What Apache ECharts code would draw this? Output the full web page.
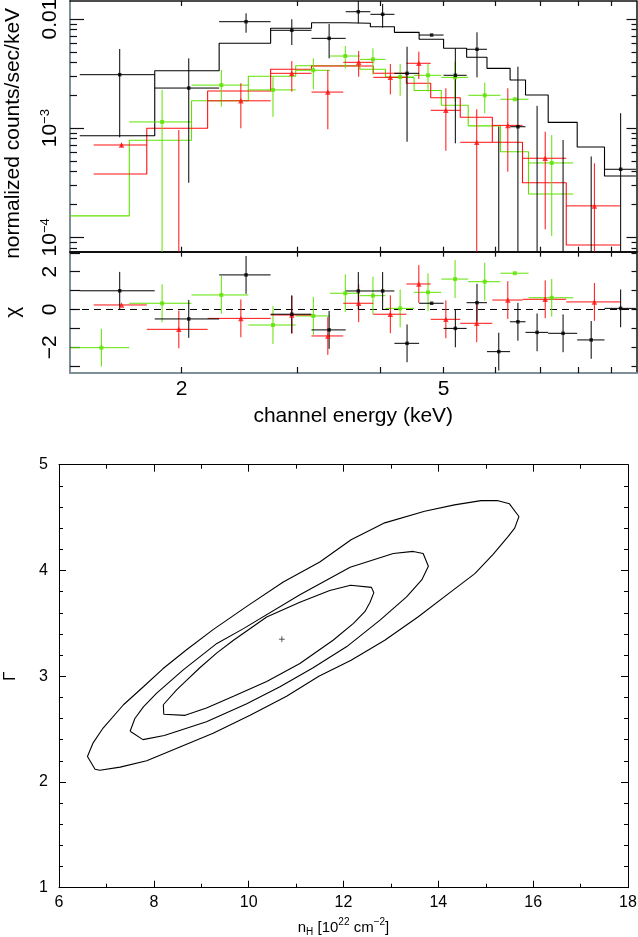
<!DOCTYPE html>
<html><head><meta charset="utf-8">
<script src="https://cdn.jsdelivr.net/npm/echarts@6/dist/echarts.min.js"></script>
<style>html,body{margin:0;padding:0;background:#fff}#c{width:638px;height:937px}</style>
</head><body><div id="c"></div>
<script>
// ---------------- data: spectrum (keV bin edges, counts/s/keV) ----------------
const blackEdges = [1.40, 1.82, 2.28, 2.73, 3.15, 3.55, 3.87, 4.21, 4.59, 5.00, 5.42, 5.82, 6.31, 6.66, 7.21, 7.98, 8.78, 9.80];
const blackRate  = [3.09e-3, 2.33e-3, 9.45e-3, 7.88e-3, 6.65e-3, 1.166e-2, 1.104e-2, 3.18e-3, 7.13e-3, 3.05e-3, 5.28e-3, null, 1.03e-3, null, null, null, 4.20e-4];
const blackHi    = [5.31e-3, 4.36e-3, 1.127e-2, 9.94e-3, 9.00e-3, 1.6e-2, 1.372e-2, 5.57e-3, 7.13e-3, 5.39e-3, 7.55e-3, 1.03e-3, 3.66e-3, 1.60e-3, 7.78e-4, 5.5e-4, 1.37e-3];
const blackLo    = [8.24e-4, 3.16e-4, 7.49e-3, 5.78e-3, 4.36e-3, 9.13e-3, 8.32e-3, 7.51e-4, 7.13e-3, 7.26e-4, 2.92e-3, null, null, null, null, null, null];
const blackModel = [8.53e-4, 3.36e-3, 5.99e-3, 8.22e-3, 9.25e-3, 9.13e-3, 8.50e-3, 7.55e-3, 6.52e-3, 5.39e-3, 4.46e-3, 3.53e-3, 2.76e-3, 2.01e-3, 1.13e-3, 6.72e-4, 3.64e-4];
const blackChi   = [0.99, -0.50, 1.83, -0.25, -1.08, 0.98, 0.98, -1.79, 0.33, -1.00, 0.36, -2.23, -0.65, -1.21, -1.26, -1.61, 0.06];
const blackChiErr= [1, 1, 1, 1, 1, 1, 1, 1, 0, 1, 1, 1, 1, 1, 1, 1, 1];

const redEdges = [1.47, 1.77, 2.19, 2.73, 3.15, 3.52, 3.91, 4.39, 4.78, 5.30, 5.93, 6.59, 7.68, 9.27];
const redRate  = [7.01e-4, null, 1.78e-3, 3.18e-3, 2.14e-3, 4.01e-3, 2.92e-3, 3.93e-3, 1.457e-3, 7.42e-4, 1.06e-3, 5.30e-4, 1.94e-4];
const redHi    = [7.3e-4, 9.62e-4, 2.58e-3, 4.12e-3, 3.41e-3, 5.09e-3, 3.87e-3, 5.02e-3, 2.32e-3, 1.49e-3, 2.32e-3, 9.28e-4, 4.76e-4];
const redLo    = [6.7e-4, null, 9.97e-4, 2.16e-3, 9.76e-4, 2.96e-3, 2.04e-3, 2.82e-3, 6.21e-4, null, 3.99e-4, 1.18e-4, null];
const redModel = [3.80e-4, 9.97e-4, 2.19e-3, 3.46e-3, 3.71e-3, 3.71e-3, 3.18e-3, 2.58e-3, 1.90e-3, 1.257e-3, 7.42e-4, 3.16e-4, 8.50e-5];
const redChi   = [0.24, -1.05, -0.47, -0.29, -1.40, 0.33, -0.25, 1.35, -0.52, -0.73, 0.50, 0.54, 0.40];
const redChiErr= [0, 1, 1, 1, 1, 1, 1, 1, 1, 1, 1, 1, 1];

const greenEdges = [1.355, 1.665, 2.07, 2.525, 2.98, 3.36, 3.73, 4.08, 4.51, 4.96, 5.45, 6.10, 6.73, 7.87];
const greenRate  = [null, 1.14e-3, 2.48e-3, 2.24e-3, 3.39e-3, 4.58e-3, 4.27e-3, 2.94e-3, 3.05e-3, 2.92e-3, 2.00e-3, 1.84e-3, 4.80e-4];
const greenHi    = [null, 2.24e-3, 3.41e-3, 2.94e-3, 4.36e-3, 5.66e-3, 5.39e-3, 3.87e-3, 3.93e-3, 4.06e-3, 2.61e-3, 1.84e-3, 8.66e-4];
const greenLo    = [null, null, 1.57e-3, 1.27e-3, 2.27e-3, 3.53e-3, 3.11e-3, 1.98e-3, 2.16e-3, 1.75e-3, 1.37e-3, 1.84e-3, 1.03e-4];
const greenModel = [1.57e-4, 7.74e-4, 1.78e-3, 2.99e-3, 3.73e-3, 3.73e-3, 3.46e-3, 2.91e-3, 2.21e-3, 1.62e-3, 1.05e-3, 6.08e-4, 2.49e-4];
const greenChi   = [-2.02, 0.33, 0.77, -0.82, -0.34, 0.86, 0.73, 0.06, 0.91, 1.61, 1.47, 1.92, 0.62];
const greenChiErr= [1, 1, 1, 1, 1, 1, 1, 1, 1, 1, 1, 0, 1];

// ---------------- data: confidence contours (nH [1e22 cm^-2], Gamma) ----------------
const contourOuter = [[11.50,4.08],[10.73,3.89],[9.96,3.66],[9.25,3.44],[8.69,3.25],[8.19,3.07],[7.78,2.90],[7.36,2.73],[6.93,2.51],[6.72,2.37],[6.60,2.24],[6.76,2.12],[6.86,2.11],[7.29,2.14],[7.85,2.20],[8.55,2.33],[9.25,2.46],[10.03,2.63],[10.80,2.81],[11.48,3.00],[12.16,3.15],[12.87,3.34],[13.57,3.56],[14.27,3.80],[14.77,3.97],[15.15,4.15],[15.47,4.32],[15.61,4.40],[15.70,4.51],[15.50,4.63],[15.26,4.66],[14.90,4.66],[14.34,4.62],[13.71,4.56],[12.87,4.45],[12.16,4.29],[11.50,4.08]];
const contourMiddle = [[7.50,2.48],[7.60,2.60],[7.78,2.71],[8.06,2.84],[8.62,3.06],[9.33,3.31],[9.89,3.45],[11.08,3.77],[12.14,4.03],[13.05,4.16],[13.47,4.18],[13.68,4.16],[13.79,4.04],[13.65,3.91],[13.33,3.75],[12.77,3.53],[12.07,3.28],[11.36,3.08],[10.66,2.90],[9.96,2.74],[9.11,2.57],[8.22,2.44],[7.77,2.40],[7.50,2.48]];
const contourInner = [[8.20,2.73],[8.48,2.87],[8.69,2.96],[8.97,3.08],[9.33,3.22],[9.68,3.34],[10.38,3.56],[11.08,3.70],[11.71,3.81],[12.15,3.86],[12.59,3.84],[12.64,3.79],[12.56,3.70],[12.45,3.61],[12.21,3.50],[11.78,3.34],[11.08,3.12],[10.38,2.95],[9.68,2.81],[9.11,2.70],[8.66,2.63],[8.21,2.64],[8.20,2.73]];
const bestFit = [10.70, 3.35];

// ---------------- axis tick definitions ----------------
const xTickKeV = [2, 3, 4, 5, 6, 7, 8, 9];
const xLabelKeV = [2, 5];
const yMajorExp = [-4, -3, -2];
const chiTicks = [-3, -2, -1, 0, 1, 2, 3];
const chiLabels = [-2, 0, 2];

// ---------------- helpers ----------------
const FONT = "'Liberation Sans', Arial, Helvetica, sans-serif";
const L10 = Math.log10;
const X_MIN = L10(1.353), X_MAX = L10(9.82);
const Y_MIN = -4.132, Y_MAX = -1.835;
const R_MIN = -3.36, R_MAX = 3.058;
const BLACK = '#000000', RED = '#ff1010', GREEN = '#5fe200';

const xTickVals = xTickKeV.map(L10);
const xLabelVals = xLabelKeV.map(L10);
const yMinorVals = [];
for (let n = -5; n <= -2; n++) for (let k = 2; k <= 9; k++) {
  const v = n + L10(k);
  if (v > Y_MIN && v < Y_MAX) yMinorVals.push(v);
}

function lg(v) { return (v == null || v <= 0) ? -99 : L10(v); }
function specErr(edges, rate, lo, hi) {
  return rate.map((r, i) => {
    const a = edges[i], b = edges[i + 1];
    return [L10(a), L10(b), L10((a + b) / 2), lg(r), lg(lo[i]), lg(hi[i])];
  });
}
function resErr(edges, chi, err) {
  return chi.map((c, i) => {
    const a = edges[i], b = edges[i + 1];
    return [L10(a), L10(b), L10((a + b) / 2), c, c - err[i], c + err[i]];
  });
}
function steps(edges, model) {
  return edges.map((e, i) => [L10(e), L10(model[Math.min(i, model.length - 1)])]);
}
function markers(edges, vals, logy) {
  const out = [];
  vals.forEach((v, i) => {
    if (v == null) return;
    const a = edges[i], b = edges[i + 1];
    out.push([L10((a + b) / 2), logy ? L10(v) : v]);
  });
  return out;
}
function errRenderer(color, yMin, yMax) {
  return function (params, api) {
    const xl = api.value(0), xh = api.value(1), xc = api.value(2);
    const y = api.value(3), yl = api.value(4), yh = api.value(5);
    const style = { stroke: color, lineWidth: 1 };
    const children = [];
    if (y >= yMin && y <= yMax) {
      const p1 = api.coord([Math.max(xl, X_MIN), y]), p2 = api.coord([Math.min(xh, X_MAX), y]);
      children.push({ type: 'line', shape: { x1: p1[0], y1: p1[1], x2: p2[0], y2: p2[1] }, style });
    }
    const top = Math.min(yh, yMax), bot = Math.max(yl, yMin);
    if (yh > yMin && top > bot) {
      const q1 = api.coord([xc, bot]), q2 = api.coord([xc, top]);
      children.push({ type: 'line', shape: { x1: q1[0], y1: q1[1], x2: q2[0], y2: q2[1] }, style });
    }
    return { type: 'group', children };
  };
}
function errSeries(data, color, xi, yi, yMin, yMax) {
  return { type: 'custom', coordinateSystem: 'cartesian2d', xAxisIndex: xi, yAxisIndex: yi,
    data, encode: { x: [0, 1, 2], y: [3, 4, 5] }, renderItem: errRenderer(color, yMin, yMax), silent: true, z: 3 };
}
function markSeries(data, color, symbol, size, xi, yi) {
  return { type: 'scatter', xAxisIndex: xi, yAxisIndex: yi, data, symbol, symbolSize: size,
    itemStyle: { color }, silent: true, z: 4 };
}
function stepSeries(data, color) {
  return { type: 'line', xAxisIndex: 0, yAxisIndex: 0, data, step: 'end', symbol: 'none',
    lineStyle: { color, width: 1.1 }, silent: true, z: 2 };
}
function contourSeries(data) {
  return { type: 'line', xAxisIndex: 4, yAxisIndex: 6, data, symbol: 'none',
    lineStyle: { color: '#000', width: 1.1 }, silent: true };
}

const richSup = {
  b: { fontSize: 21, lineHeight: 22, fontFamily: FONT, color: '#000', verticalAlign: 'middle' },
  sup: { fontSize: 13, lineHeight: 13, fontFamily: FONT, color: '#000', verticalAlign: 'top' }
};
const frameGray = '#7f8f96';

function tickX(grid, pos, len, lineColor, lineWidth, showLine) {
  return { gridIndex: grid, type: 'value', position: pos, min: X_MIN, max: X_MAX,
    axisLine: { show: showLine, onZero: false, lineStyle: { color: lineColor, width: lineWidth } },
    axisTick: { show: true, inside: true, length: len, customValues: xTickVals, lineStyle: { color: '#111', width: 1.2 } },
    axisLabel: { show: false }, splitLine: { show: false } };
}
function specY(pos, len, vals, showLine, lineColor, lineWidth) {
  return { gridIndex: 0, type: 'value', position: pos, min: Y_MIN, max: Y_MAX,
    axisLine: { show: showLine, onZero: false, lineStyle: { color: lineColor, width: lineWidth } },
    axisTick: { show: true, inside: true, length: len, customValues: vals, lineStyle: { color: '#111', width: 1.2 } },
    axisLabel: { show: false }, splitLine: { show: false } };
}

const xAxis = [
  tickX(0, 'bottom', 5, '#111', 2, true),
  tickX(0, 'top', 5, '#111', 1.5, true),
  tickX(1, 'top', 5, '#111', 2, false),
  Object.assign(tickX(1, 'bottom', 6, frameGray, 2, true), {
    axisLabel: { show: true, customValues: xLabelVals, margin: 6, fontSize: 21, fontFamily: FONT, color: '#000',
      formatter: v => String(Math.round(Math.pow(10, v))) },
    name: 'channel energy (keV)', nameLocation: 'middle', nameGap: 33,
    nameTextStyle: { fontSize: 21, fontFamily: FONT, color: '#000' }
  }),
  { gridIndex: 2, type: 'value', position: 'bottom', min: 6, max: 18, interval: 2,
    axisLine: { onZero: false, lineStyle: { color: '#000', width: 1 } },
    axisTick: { inside: true, length: 7, lineStyle: { color: '#000', width: 1 } },
    minorTick: { show: true, splitNumber: 2, length: 4, lineStyle: { color: '#000', width: 1 } },
    axisLabel: { margin: 7, fontSize: 16, fontFamily: FONT, color: '#000' },
    splitLine: { show: false },
    name: '{b|n}{sub|H}{b| [10}{sup|22}{b| cm}{sup|−2}{b|]}', nameLocation: 'middle', nameGap: 30,
    nameTextStyle: { fontFamily: FONT, color: '#000', rich: {
      b: { fontSize: 15, lineHeight: 20, fontFamily: FONT, color: '#000', verticalAlign: 'middle' },
      sub: { fontSize: 10, lineHeight: 10, fontFamily: FONT, color: '#000', verticalAlign: 'bottom' },
      sup: { fontSize: 10, lineHeight: 10, fontFamily: FONT, color: '#000', verticalAlign: 'top' } } } },
  { gridIndex: 2, type: 'value', position: 'top', min: 6, max: 18, interval: 2,
    axisLine: { onZero: false, lineStyle: { color: '#000', width: 1 } },
    axisTick: { inside: true, length: 7, lineStyle: { color: '#000', width: 1 } },
    minorTick: { show: true, splitNumber: 2, length: 4, lineStyle: { color: '#000', width: 1 } },
    axisLabel: { show: false }, splitLine: { show: false } }
];

const yAxis = [
  Object.assign(specY('left', 14, yMajorExp, true, frameGray, 2), {
    axisLabel: { show: true, customValues: yMajorExp, rotate: 90, margin: 9, fontFamily: FONT, color: '#000', rich: richSup,
      formatter: v => Math.abs(v + 2) < 1e-9 ? '{b|0.01}' : '{b|10}{sup|−' + Math.round(-v) + '}' },
    name: 'normalized counts/sec/keV', nameLocation: 'middle', nameGap: 46,
    nameTextStyle: { fontSize: 21, fontFamily: FONT, color: '#000', padding: [0, 14, 0, 0] }
  }),
  specY('left', 7, yMinorVals, false, '#000', 1),
  specY('right', 10, yMajorExp, true, '#111', 1.5),
  specY('right', 5, yMinorVals, false, '#000', 1),
  { gridIndex: 1, type: 'value', position: 'left', min: R_MIN, max: R_MAX,
    axisLine: { onZero: false, lineStyle: { color: frameGray, width: 2 } },
    axisTick: { inside: true, length: 10, customValues: chiTicks, lineStyle: { color: '#111', width: 1.2 } },
    axisLabel: { customValues: chiLabels, rotate: 90, margin: 9, fontSize: 21, fontFamily: FONT, color: '#000',
      formatter: v => v < 0 ? '−' + Math.abs(v) : String(v) },
    splitLine: { show: false },
    name: 'χ', nameLocation: 'middle', nameGap: 46, nameTextStyle: { fontSize: 21, fontFamily: FONT, color: '#000' } },
  { gridIndex: 1, type: 'value', position: 'right', min: R_MIN, max: R_MAX,
    axisLine: { onZero: false, lineStyle: { color: '#111', width: 1.5 } },
    axisTick: { inside: true, length: 5, customValues: chiTicks, lineStyle: { color: '#111', width: 1.2 } },
    axisLabel: { show: false }, splitLine: { show: false } },
  { gridIndex: 2, type: 'value', position: 'left', min: 1, max: 5, interval: 1,
    axisLine: { onZero: false, lineStyle: { color: '#000', width: 1 } },
    axisTick: { inside: true, length: 7, lineStyle: { color: '#000', width: 1 } },
    minorTick: { show: true, splitNumber: 5, length: 4, lineStyle: { color: '#000', width: 1 } },
    axisLabel: { margin: 11, fontSize: 16, fontFamily: FONT, color: '#000' },
    splitLine: { show: false },
    name: 'Γ', nameLocation: 'middle', nameGap: 40, nameTextStyle: { fontSize: 17, fontFamily: FONT, color: '#000' } },
  { gridIndex: 2, type: 'value', position: 'right', min: 1, max: 5, interval: 1,
    axisLine: { onZero: false, lineStyle: { color: '#000', width: 1 } },
    axisTick: { inside: true, length: 7, lineStyle: { color: '#000', width: 1 } },
    minorTick: { show: true, splitNumber: 5, length: 4, lineStyle: { color: '#000', width: 1 } },
    axisLabel: { show: false }, splitLine: { show: false } }
];

const series = [
  stepSeries(steps(greenEdges, greenModel), GREEN),
  stepSeries(steps(redEdges, redModel), RED),
  stepSeries(steps(blackEdges, blackModel), BLACK),
  errSeries(specErr(greenEdges, greenRate, greenLo, greenHi), GREEN, 0, 0, Y_MIN, Y_MAX),
  errSeries(specErr(redEdges, redRate, redLo, redHi), RED, 0, 0, Y_MIN, Y_MAX),
  errSeries(specErr(blackEdges, blackRate, blackLo, blackHi), BLACK, 0, 0, Y_MIN, Y_MAX),
  markSeries(markers(greenEdges, greenRate, true), GREEN, 'rect', 4, 0, 0),
  markSeries(markers(redEdges, redRate, true), RED, 'triangle', 5.5, 0, 0),
  markSeries(markers(blackEdges, blackRate, true), BLACK, 'rect', 3.5, 0, 0),
  { type: 'line', xAxisIndex: 3, yAxisIndex: 4, data: [[X_MIN, 0], [X_MAX, 0]], symbol: 'none',
    lineStyle: { color: '#000', width: 1, type: [7, 5] }, silent: true, z: 1 },
  errSeries(resErr(greenEdges, greenChi, greenChiErr), GREEN, 3, 4, R_MIN, R_MAX),
  errSeries(resErr(redEdges, redChi, redChiErr), RED, 3, 4, R_MIN, R_MAX),
  errSeries(resErr(blackEdges, blackChi, blackChiErr), BLACK, 3, 4, R_MIN, R_MAX),
  markSeries(markers(greenEdges, greenChi, false), GREEN, 'rect', 4, 3, 4),
  markSeries(markers(redEdges, redChi, false), RED, 'triangle', 5.5, 3, 4),
  markSeries(markers(blackEdges, blackChi, false), BLACK, 'rect', 3.5, 3, 4),
  contourSeries(contourOuter),
  contourSeries(contourMiddle),
  contourSeries(contourInner),
  { type: 'scatter', xAxisIndex: 4, yAxisIndex: 6, data: [bestFit], symbol: 'path://M0,5L10,5M5,0L5,10', symbolSize: 6,
    itemStyle: { color: 'transparent', borderColor: '#000', borderWidth: 0.8 }, silent: true }
];

const chart = echarts.init(document.getElementById('c'), null, { renderer: 'canvas' });
chart.setOption({
  animation: false,
  backgroundColor: '#fff',
  grid: [
    { left: 70, top: 1, width: 566.5, height: 250.7, containLabel: false, outerBoundsMode: 'none' },
    { left: 70, top: 251.7, width: 566.5, height: 121.3, containLabel: false, outerBoundsMode: 'none' },
    { left: 59, top: 464.7, width: 569, height: 423, containLabel: false, outerBoundsMode: 'none' }
  ],
  xAxis, yAxis, series
});
</script></body></html>
